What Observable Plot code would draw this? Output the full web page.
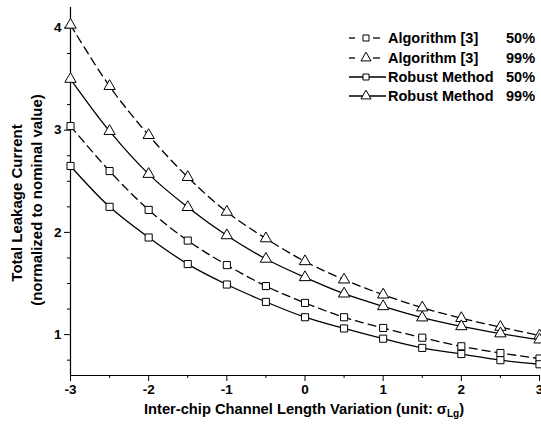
<!DOCTYPE html>
<html><head><meta charset="utf-8">
<script src="https://cdn.jsdelivr.net/npm/d3@7"></script>
<script src="https://cdn.jsdelivr.net/npm/@observablehq/plot@0.6"></script>
<style>
body{margin:0;background:#fff;}
#chart{position:relative;width:541px;height:425px;}
</style>
</head><body><div id="chart"></div>
<script>
// ---- data ----
const xs = [-3, -2.5, -2, -1.5, -1, -0.5, 0, 0.5, 1, 1.5, 2, 2.5, 3];
const alg50 = [3.04, 2.60, 2.22, 1.92, 1.68, 1.475, 1.31, 1.17, 1.065, 0.97, 0.886, 0.82, 0.766];
const alg99 = [4.03, 3.43, 2.95, 2.54, 2.20, 1.94, 1.716, 1.537, 1.39, 1.264, 1.16, 1.074, 0.99];
const rob50 = [2.65, 2.25, 1.95, 1.69, 1.49, 1.32, 1.17, 1.06, 0.96, 0.87, 0.81, 0.75, 0.71];
const rob99 = [3.50, 2.99, 2.57, 2.246, 1.97, 1.74, 1.56, 1.40, 1.276, 1.166, 1.08, 1.01, 0.95];
const seriesNames = ["Algorithm [3]", "Algorithm [3]", "Robust Method", "Robust Method"];
const seriesPct = ["50%", "99%", "50%", "99%"];
const xTicks = [-3, -2, -1, 0, 1, 2, 3];
const xMinor = [-2.5, -1.5, -0.5, 0.5, 1.5, 2.5];
const yTicks = [1, 2, 3, 4];
const yMinor = [0.75, 1.25, 1.5, 1.75, 2.25, 2.5, 2.75, 3.25, 3.5, 3.75];
const yTitle1 = "Total Leakage Current";
const yTitle2 = "(normalized to nominal value)";

const allSeries = [alg50, alg99, rob50, rob99];
const dashed = [true, true, false, false];
const symbols = ["square", "triangle", "square", "triangle"];
const rows = [];
allSeries.forEach((vals, s) => vals.forEach((v, i) => rows.push({x: xs[i], y: v, s})));

const FONT = "'Liberation Sans', Arial, sans-serif";

const marks = [];
// minor ticks
marks.push(Plot.axisX({ticks: xMinor, tickSize: 3, tickFormat: () => "", label: null}));
marks.push(Plot.axisY({ticks: yMinor, tickSize: 3, tickFormat: () => "", label: null}));
// major ticks
marks.push(Plot.axisX({ticks: xTicks, tickSize: 6, tickPadding: 3, tickFormat: d => String(d), label: null, fontSize: 13.5}));
marks.push(Plot.axisY({ticks: yTicks, tickSize: 6, tickPadding: 3, tickFormat: d => String(d), label: null, fontSize: 13.5}));
// axis lines
marks.push(Plot.ruleX([-3], {stroke: "#000", strokeWidth: 1.2}));
marks.push(Plot.ruleY([0.6], {stroke: "#000", strokeWidth: 1.2}));
// lines
allSeries.forEach((vals, s) => {
  marks.push(Plot.line(rows.filter(d => d.s === s), {
    x: "x", y: "y", curve: "catmull-rom", stroke: "#000", strokeWidth: 1.3,
    strokeDasharray: dashed[s] ? "8,5" : null
  }));
});
// markers
allSeries.forEach((vals, s) => {
  marks.push(Plot.dot(rows.filter(d => d.s === s), {
    x: "x", y: "y", symbol: symbols[s], r: symbols[s] === "square" ? 4 : 4.2,
    fill: "#fff", stroke: "#000", strokeWidth: 1
  }));
});

const plot = Plot.plot({
  width: 541, height: 425,
  marginLeft: 70, marginRight: 2, marginTop: 7, marginBottom: 50,
  x: {domain: [-3, 3]},
  y: {domain: [0.6, 4.2]},
  style: {fontFamily: FONT, fontWeight: "bold", background: "#fff", overflow: "hidden"},
  marks
});
document.getElementById("chart").appendChild(plot);

const svg = d3.select(plot);
svg.selectAll("text").attr("font-weight", "bold").attr("fill", "#000");
// y-axis titles
const gy = svg.append("g").attr("font-family", FONT).attr("font-weight", "bold").attr("font-size", 15).attr("fill", "#000").attr("text-anchor", "middle");
gy.append("text").attr("transform", "translate(22,203) rotate(-90)").text(yTitle1);
gy.append("text").attr("transform", "translate(42,200) rotate(-90)").text(yTitle2);
// x-axis title
const xt = svg.append("text").attr("x", 304).attr("y", 414).attr("text-anchor", "middle")
  .attr("font-family", FONT).attr("font-weight", "bold").attr("font-size", 14.7).attr("fill", "#000");
xt.append("tspan").text("Inter-chip Channel Length Variation (unit: σ");
xt.append("tspan").attr("font-size", 10).attr("dy", 3).text("Lg");
xt.append("tspan").attr("dy", -3).text(")");

// legend
const leg = svg.append("g").attr("font-family", FONT).attr("font-weight", "bold").attr("font-size", 14.5).attr("fill", "#000").attr("text-anchor", "start");
const rowY = [38, 58, 77, 96];
seriesNames.forEach((name, s) => {
  const y = rowY[s];
  const g = leg.append("g");
  if (dashed[s]) {
    g.append("line").attr("x1", 349).attr("x2", 355).attr("y1", y).attr("y2", y).attr("stroke", "#000").attr("stroke-width", 1.3);
    g.append("line").attr("x1", 373).attr("x2", 380).attr("y1", y).attr("y2", y).attr("stroke", "#000").attr("stroke-width", 1.3);
  } else {
    g.append("line").attr("x1", 349).attr("x2", 386).attr("y1", y).attr("y2", y).attr("stroke", "#000").attr("stroke-width", 1.3);
  }
  const sym = d3.symbol().type(symbols[s] === "square" ? d3.symbolSquare : d3.symbolTriangle).size(symbols[s] === "square" ? 36 : 44);
  g.append("path").attr("d", sym()).attr("transform", `translate(366,${y})`)
    .attr("fill", "#fff").attr("stroke", "#000").attr("stroke-width", 1);
  g.append("text").attr("x", 388).attr("y", y).attr("dy", "0.36em").attr("text-anchor", "start").text(name);
  g.append("text").attr("x", 506).attr("y", y).attr("dy", "0.36em").attr("text-anchor", "start").text(seriesPct[s]);
});
</script>
</body></html>
